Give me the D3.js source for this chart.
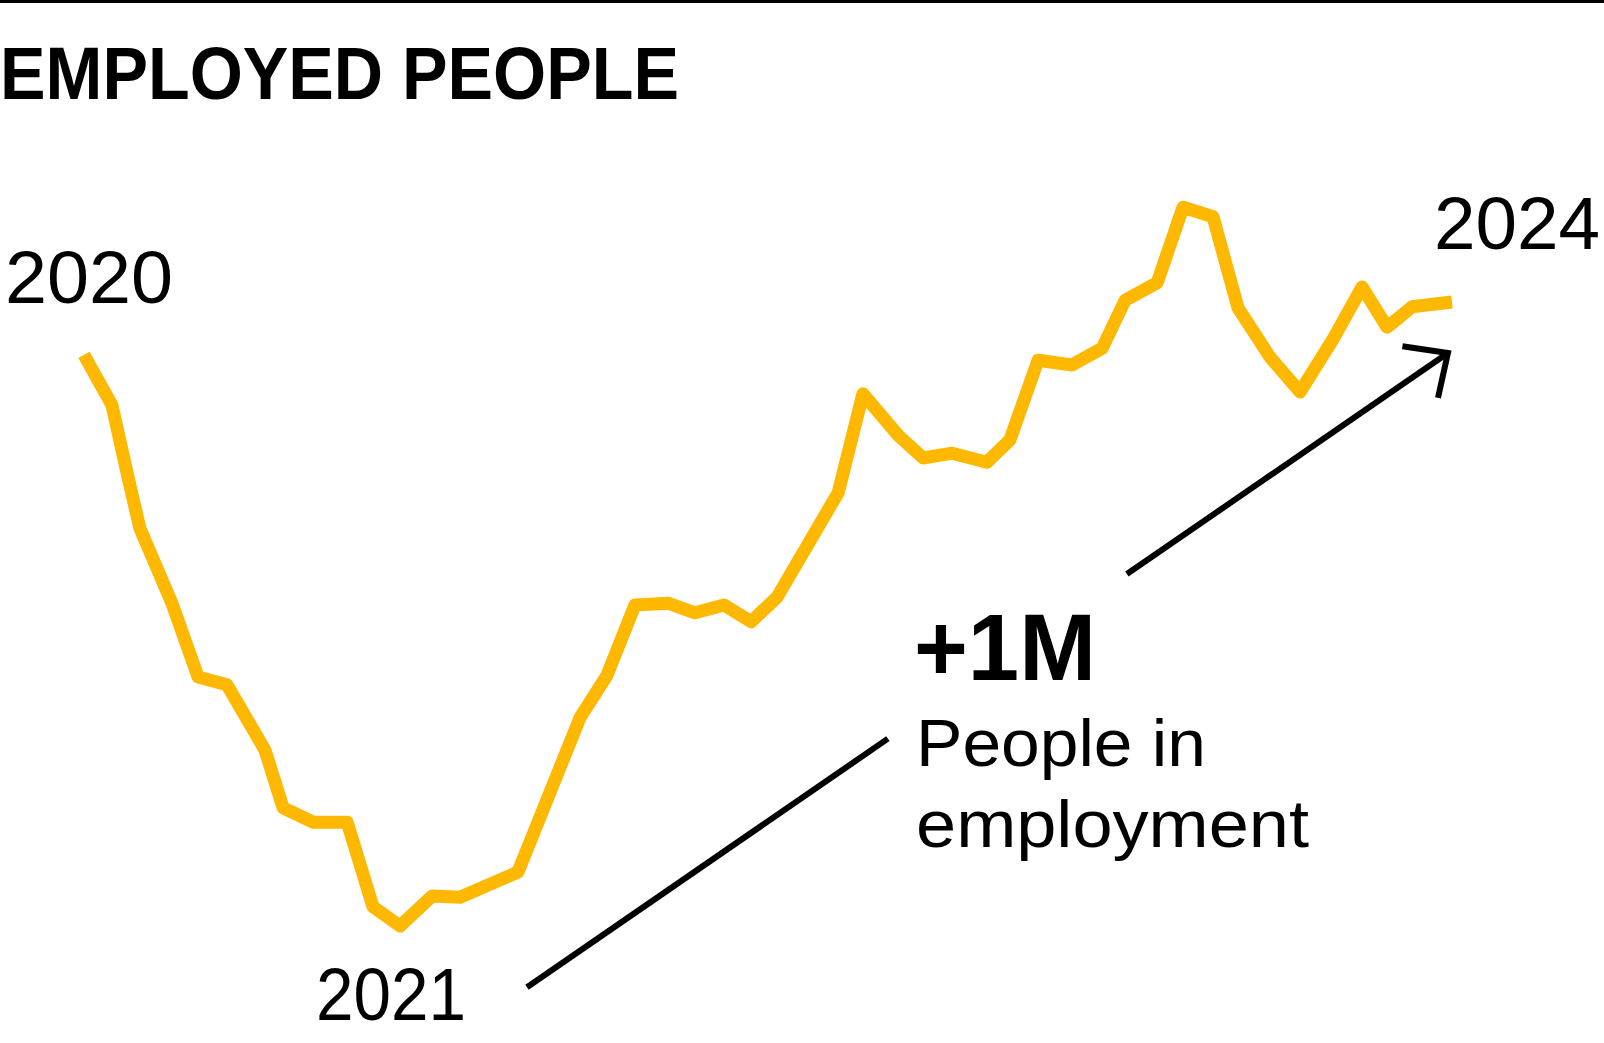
<!DOCTYPE html>
<html>
<head>
<meta charset="utf-8">
<script src="https://cdn.jsdelivr.net/npm/d3@7"></script>
<style>
  html, body { margin: 0; padding: 0; background: #fff; }
  svg { display: block; }
  text { font-family: "Liberation Sans", Arial, Helvetica, sans-serif; fill: #000; }
</style>
</head>
<body>
<svg id="chart"></svg>
<script>
// ---- Data ----
// month index counted from the first observation (2020) ; employed people, thousands
const months = [0, 0.96, 1.48, 1.92, 3.02, 3.92, 4.91, 6.22, 6.84, 7.87,
  9.04, 9.93, 10.86, 11.96, 12.92, 14.91, 17.04, 17.97, 18.93, 20.06,
  20.99, 21.99, 22.92, 23.81, 25.91, 26.76, 27.97, 28.83, 29.82, 31.02,
  31.81, 32.78, 33.94, 34.98, 35.77, 36.87, 37.76, 38.79, 39.65, 40.75,
  41.78, 42.9, 43.91, 44.77, 45.63, 47];
const employed = [21952, 21868, 21755, 21663, 21538, 21415, 21402, 21293, 21197, 21173,
  21173, 21032, 21000, 21050, 21048, 21090, 21347, 21418, 21535, 21538,
  21522, 21535, 21507, 21548, 21722, 21887, 21818, 21780, 21788, 21773,
  21810, 21943, 21935, 21963, 22043, 22072, 22198, 22182, 22030, 21948,
  21890, 21977, 22065, 21998, 22032, 22040];
const yearLabels = ["2020", "2021", "2024"];
const title = "EMPLOYED PEOPLE";
const headline = "+1M";
const subLines = ["People in", "employment"];
// trend arrow in data space: [month, thousands]
const arrowFrom = [15.22, 20898];
const arrowTo = [46.86, 21955];
const arrowGap = [27.62, 35.83]; // months where the arrow is interrupted by the text

// ---- Layout ----
const W = 1604, H = 1043;
const svg = d3.select("#chart").attr("width", W).attr("height", H);

const x = d3.scaleLinear().domain([0, 47]).range([84, 1452]);
const y = d3.scaleLinear().domain([21000, 22000]).range([926, 326]);

// top rule
svg.append("rect").attr("x", 0).attr("y", 0).attr("width", W).attr("height", 3).attr("fill", "#000");

// title
svg.append("text")
  .attr("x", 0).attr("y", 99)
  .attr("font-size", 75).attr("font-weight", 700)
  .attr("textLength", 679).attr("lengthAdjust", "spacingAndGlyphs")
  .text(title);

// line
const pts = months.map((m, i) => [m, employed[i]]);
const line = d3.line().x(d => x(d[0])).y(d => y(d[1]));
svg.append("path")
  .datum(pts)
  .attr("d", line)
  .attr("fill", "none")
  .attr("stroke", "#FFB800")
  .attr("stroke-width", 13)
  .attr("stroke-linejoin", "round")
  .attr("stroke-linecap", "butt");

// year labels
svg.append("text").attr("x", 5).attr("y", 303).attr("font-size", 74)
  .attr("textLength", 168).attr("lengthAdjust", "spacingAndGlyphs").text(yearLabels[0]);
svg.append("text").attr("x", 316).attr("y", 1020).attr("font-size", 74)
  .attr("textLength", 150).attr("lengthAdjust", "spacingAndGlyphs").text(yearLabels[1]);
svg.append("text").attr("x", 1434).attr("y", 249).attr("font-size", 74)
  .attr("textLength", 166).attr("lengthAdjust", "spacingAndGlyphs").text(yearLabels[2]);

// arrow (split around the annotation text)
const slope = (arrowTo[1] - arrowFrom[1]) / (arrowTo[0] - arrowFrom[0]);
const at = m => [m, arrowFrom[1] + slope * (m - arrowFrom[0])];
const seg1 = [arrowFrom, at(arrowGap[0])];
const seg2 = [at(arrowGap[1]), arrowTo];
const aLine = d3.line().x(d => x(d[0])).y(d => y(d[1]));
[seg1, seg2].forEach(s => {
  svg.append("path").attr("d", aLine(s))
    .attr("fill", "none").attr("stroke", "#000").attr("stroke-width", 6);
});
// arrow head (open chevron) built around the tip in pixel space
const tipX = x(arrowTo[0]), tipY = y(arrowTo[1]);
const ang = Math.atan2(tipY - y(arrowFrom[1]), tipX - x(arrowFrom[0]));
const headLen = 46, spread = 0.75;
const h1 = [tipX - headLen * Math.cos(ang - spread), tipY - headLen * Math.sin(ang - spread)];
const h2 = [tipX - headLen * Math.cos(ang + spread), tipY - headLen * Math.sin(ang + spread)];
svg.append("path")
  .attr("d", d3.line()([h1, [tipX, tipY], h2]))
  .attr("fill", "none").attr("stroke", "#000").attr("stroke-width", 6)
  .attr("stroke-linejoin", "miter");

// annotation text
svg.append("text").attr("x", 914).attr("y", 680)
  .attr("font-size", 95).attr("font-weight", 700)
  .attr("textLength", 182).attr("lengthAdjust", "spacingAndGlyphs")
  .text(headline);
svg.append("text").attr("x", 916).attr("y", 766).attr("font-size", 67)
  .attr("textLength", 290).attr("lengthAdjust", "spacingAndGlyphs").text(subLines[0]);
svg.append("text").attr("x", 916).attr("y", 847).attr("font-size", 67)
  .attr("textLength", 393).attr("lengthAdjust", "spacingAndGlyphs").text(subLines[1]);
</script>
</body>
</html>
